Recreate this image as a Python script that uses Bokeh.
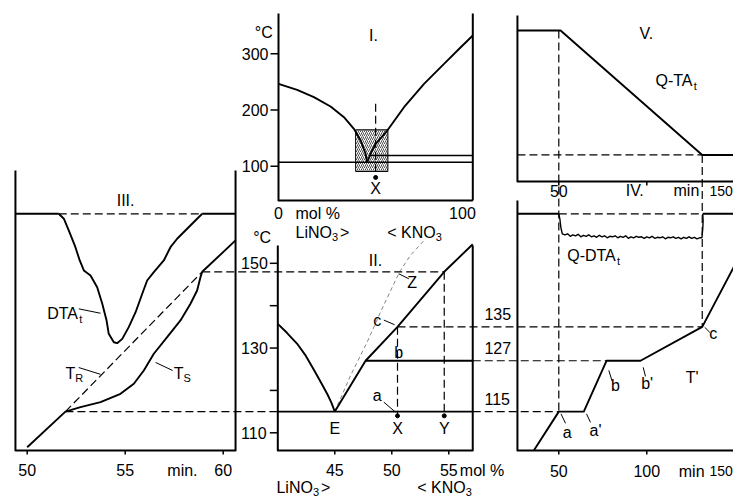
import numpy as np
from bokeh.plotting import figure
from bokeh.models import Range1d
from bokeh.core.properties import value
from bokeh.embed import file_html
from bokeh.resources import INLINE

W, H = 733, 498
FONT = "Liberation Sans"
FS = 16
SUB = 11

# ======================= DATA =======================
# Panel I: LiNO3-KNO3 phase diagram (mol % KNO3, degC)
I_xlim = [0, 100]
I_Tlim = [39, 371.7]
I_liq_left_x = [0, 9.6, 18.2, 26.8, 33.7, 38.8, 42.3, 44.8, 45.6]
I_liq_left_T = [246.6, 235.9, 222.8, 206.2, 187.2, 166.5, 145.7, 122.1, 107]
I_liq_right_x = [45.6, 47.4, 50, 56, 64.6, 74.9, 85.2, 93.8, 100]
I_liq_right_T = [107, 122.1, 139.9, 163.5, 205, 246.6, 282.2, 311.7, 332.6]
I_eut_T = 107
I_upper_x = [47.4, 100]
I_upper_T = 119
I_win_x = [39.7, 56.3]
I_win_T = [90.6, 164.8]
I_X = 50
I_X_T = [211, 80]
I_yticks = [100, 200, 300]

# Panel II: enlarged eutectic region
II_xlim = [40, 57.1]
II_Tlim = [105.83, 154.2]
II_liq_left_x = [40, 40.8, 41.7, 42.4, 43.2, 43.8, 44.35, 44.7, 45]
II_liq_left_T = [135.7, 133.6, 131.0, 128.4, 124.7, 121.8, 119.1, 117.1, 115]
II_liq_right_x = [45, 47.7, 50.5, 54.6, 57.1]
II_liq_right_T = [115, 127, 135, 148, 154.5]
II_meta_x = [45, 46.38, 47.84, 49.01, 50.32, 50.76, 51.64, 52.96]
II_meta_T = [115, 123.5, 131.4, 138.5, 145.95, 148.3, 151.9, 155.8]
T_a, T_b, T_c, T_z = 115, 127, 135, 148
x_E, x_X, x_Y = 45, 50.5, 54.6
T_dot = 114
II_yticks = [110, 120, 130, 140, 150]
II_ylabels = [110, 130, 150]
II_xticks = [45, 50, 55]

# Panel III: DTA / temperature vs time (min)
III_tlim = [49.4, 60.63]
III_Tlim = [105.83, 171.9]
III_dta_t = [51.61, 51.87, 52.12, 52.46, 52.68, 52.89, 53.23, 53.57, 53.83, 54.05, 54.16, 54.42,
             54.59, 54.85, 55.18, 55.53, 55.87, 56.12, 56.46, 56.97, 57.31, 57.65, 58.16, 58.67, 58.93]
III_dta_v = [0, -0.38, -1.28, -2.57, -3.59, -4.36, -4.75, -5.65, -6.92, -8.21, -9.23, -9.88,
             -9.95, -9.62, -8.72, -7.57, -6.15, -5.13, -4.49, -3.59, -2.57, -1.92, -1.15, -0.38, 0]
III_TR_t = [50.0, 51.95, 58.93, 60.63]
III_TR_T = [106.6, 115, 148, 155.4]
III_TS_t = [51.95, 52.72, 53.74, 54.76, 55.44, 55.95, 56.46, 57.14, 57.82, 58.33, 58.67, 58.84, 58.93]
III_TS_T = [115, 116.05, 117.23, 119.21, 121.57, 124.71, 128.65, 132.57, 136.51, 140.45, 143.59, 146.73, 148]
III_xticks = [50, 55, 60]

# Panel IV: quasi-isothermal T' and Q-DTA vs time (min)
IV_tlim = [26.5, 160]
IV_Tlim = [105.83, 164.8]
IV_Tp_t = [35.8, 50, 64.2, 77.1, 96.4, 131.5, 155]
IV_Tp_T = [105.83, 115, 115, 127, 127, 135, 153.5]
IV_q_t = [50, 50.6, 51.2, 52.0, 53.5, 55, 56.5, 58, 59.5, 61, 62.5, 64, 65.5, 67, 68.5, 70, 71.5,
          73, 74.5, 76, 77.5, 79, 80.5, 82, 83.5, 85, 86.5, 88, 89.5, 91, 92.5, 94, 95.5, 97,
          98.5, 100, 101.5, 103, 104.5, 106, 107.5, 109, 110.5, 112, 113.5, 115, 116.5, 118,
          119.5, 121, 122.5, 124, 125.5, 127, 128.5, 130, 131.3, 131.8, 132.0, 131.8]
IV_q_v = [0, -0.5, -1.4, -2.0, -2.1, -2.0, -2.25, -2.1, -2.2, -2.05, -2.3, -2.15, -2.25, -2.1,
          -2.3, -2.2, -2.35, -2.15, -2.3, -2.2, -2.4, -2.25, -2.3, -2.2, -2.4, -2.25, -2.35,
          -2.2, -2.45, -2.3, -2.4, -2.25, -2.35, -2.3, -2.45, -2.3, -2.4, -2.25, -2.45, -2.35,
          -2.4, -2.3, -2.5, -2.35, -2.4, -2.3, -2.45, -2.35, -2.5, -2.35, -2.45, -2.3, -2.45,
          -2.35, -2.5, -2.4, -2.4, -1.5, -0.7, 0]
IV_q_end = 131.8
IV_xticks = [50, 100, 150]

# Panel V: Q-TA
V_vlim = [0, 10]
V_qta_t = [26.5, 51, 131.5, 160]
V_qta_v = [9.1, 9.1, 1.6, 1.6]
V_xticks = [50, 100, 150]

# ======================= LAYOUT (data value -> pixel) =======================
LX = {"I": (0, 278.0, 100, 472.3),
      "II": (45, 334.3, 55, 448.3),
      "III": (50, 26.7, 60, 222.7),
      "IV": (50, 558.3, 100, 646.3)}
LY = {"TI": (100, 165.7, 300, 53.3),
      "T": (110, 432.3, 150, 262.8),
      "D3": (0, 213.3, -10, 343.3),
      "D4": (0, 213.3, -1, 223.3),
      "V": (0, 181.0, 10, 15.0)}


def to_px(Lm, v):
    a, pa, b, pb = Lm
    return pa + (v - a) * (pb - pa) / (b - a)


def from_px(Lm, q):
    a, pa, b, pb = Lm
    return a + (q - pa) * (b - a) / (pb - pa)


def cx(a, b, v):
    return from_px(LX[b], to_px(LX[a], v))


def cy(a, b, v):
    return from_px(LY[b], to_px(LY[a], v))


p = figure(width=W, height=H, x_range=Range1d(0, W), y_range=Range1d(0, H),
           x_axis_type=None, y_axis_type=None, toolbar_location=None,
           output_backend="svg", min_border=0, outline_line_color=None,
           background_fill_color="white", border_fill_color="white")
p.extra_x_ranges = {k: Range1d(from_px(Lm, 0), from_px(Lm, W)) for k, Lm in LX.items()}
p.extra_y_ranges = {k: Range1d(from_px(Lm, H), from_px(Lm, 0)) for k, Lm in LY.items()}

DASH = "8 4"


def ln(xs, ys, xr, yr, w=1.9, dash="solid", color="black"):
    p.line(list(xs), list(ys), x_range_name=xr, y_range_name=yr, line_width=w,
           line_dash=dash, line_color=color, line_join="round")


def ticks(xr, yr, xs, ys, length, angle, w=1.5):
    p.ray(x=list(xs), y=list(ys), length=length, length_units="screen", angle=angle,
          x_range_name=xr, y_range_name=yr, line_color="black", line_width=w)


CW = {'L': 556, 'i': 222, 'N': 722, 'O': 778, 'K': 667, ' ': 278, '>': 584, '<': 584, 'D': 722,
      'T': 611, 'A': 667, 'Q': 778, '-': 333, 't': 278, 'R': 722, 'S': 667, 'm': 833, 'o': 556,
      'l': 222, '%': 889, "'": 191, '.': 278, 'I': 278, 'V': 667, 'X': 667, 'Y': 667, 'Z': 611,
      'E': 667, 'n': 556, 'a': 556, 'b': 556, 'c': 500, 'C': 722, '\u00b0': 400}


def tw(s, size):
    return sum(CW.get(ch, 556) for ch in s) * size / 1000.0


def label(xr, yr, x, y, parts, align="left", size=FS, dx=0, dy=0, gap=0):
    if isinstance(parts, str):
        parts = [(parts, False)]
    widths = [tw(t, SUB if sub else size) + (gap if sub else 0) for t, sub in parts]
    total = sum(widths)
    off = dx - {"left": 0, "center": total / 2, "right": total}[align]
    for (t, sub), wd in zip(parts, widths):
        p.text(x=[x], y=[y], text=[t], x_offset=off, y_offset=dy + (5 if sub else 0),
               text_font=value(FONT), text_font_size=value(f"{SUB if sub else size}px"),
               text_align="left", text_baseline="middle", text_color="black",
               x_range_name=xr, y_range_name=yr)
        off += wd


LINO3 = [("LiNO", False), ("3", True), (" >", False)]
KNO3 = [("< KNO", False), ("3", True)]

# ======================= PANEL I =======================
xr, yr = "I", "TI"
ln([I_xlim[0], I_xlim[0], I_xlim[1]], [I_Tlim[1], I_Tlim[0], I_Tlim[0]], xr, yr, w=2)
ln([I_xlim[1], I_xlim[1]], [I_Tlim[0], I_Tlim[1]], xr, yr, w=2)
p.quad(left=[I_win_x[0]], right=[I_win_x[1]], bottom=[I_win_T[0]], top=[I_win_T[1]],
       fill_color=None, hatch_pattern="/", hatch_color="#222222", hatch_scale=4, hatch_weight=0.8,
       line_color="black", line_width=1, x_range_name=xr, y_range_name=yr)
ln(I_liq_left_x, I_liq_left_T, xr, yr)
ln(I_liq_right_x, I_liq_right_T, xr, yr)
ln(I_xlim, [I_eut_T, I_eut_T], xr, yr, w=1.6)
ln(I_upper_x, [I_upper_T, I_upper_T], xr, yr, w=1.6)
ln([I_X, I_X], I_X_T, xr, yr, w=1.2, dash=DASH)
p.scatter([I_X], [I_X_T[1]], size=4, color="black", x_range_name=xr, y_range_name=yr)
ticks(xr, yr, [I_xlim[0]] * 3, I_yticks, 8, np.pi)
for t in I_yticks:
    label(xr, yr, I_xlim[0], t, str(t), align="right", dx=-10)
label(xr, yr, -7.55, 337.9, "\u00b0C", align="center")
label(xr, yr, 48.9, 332.6, "I.", align="center")
label(xr, yr, I_xlim[0], I_Tlim[0], "0", align="center", dy=13)
label(xr, yr, 8.75, I_Tlim[0], "mol %", dy=13)
label(xr, yr, I_xlim[1], I_Tlim[0], "100", align="right", dx=3, dy=13)
label(xr, yr, 8.75, I_Tlim[0], LINO3, dy=32, gap=2)
label(xr, yr, 55.95, I_Tlim[0], KNO3, dy=32)
label(xr, yr, I_X, 60, "X", align="center")

# ======================= PANEL II =======================
xr, yr = "II", "T"
ln([II_xlim[0], II_xlim[0], II_xlim[1], II_xlim[1]],
   [II_Tlim[1], II_Tlim[0], II_Tlim[0], II_Tlim[1]], xr, yr, w=2)
ln(II_meta_x, II_meta_T, xr, yr, w=0.9, dash="4 3", color="#777777")
ln(II_liq_left_x, II_liq_left_T, xr, yr)
ln(II_liq_right_x, II_liq_right_T, xr, yr)
ln(II_xlim, [T_a, T_a], xr, yr, w=1.8)
ln([II_liq_right_x[1], II_xlim[1]], [T_b, T_b], xr, yr, w=1.8)
# dashed connecting lines
ln([cx("III", "II", III_TS_t[0]), II_xlim[0]], [T_a, T_a], xr, yr, w=1.2, dash=DASH)
ln([II_xlim[1], cx("IV", "II", IV_Tp_t[1])], [T_a, T_a], xr, yr, w=1.2, dash=DASH)
ln([II_xlim[1], cx("IV", "II", IV_Tp_t[3])], [T_b, T_b], xr, yr, w=1.2, dash=DASH)
ln([x_X, cx("IV", "II", IV_Tp_t[5])], [T_c, T_c], xr, yr, w=1.2, dash=DASH)
ln([cx("III", "II", III_TS_t[-1]), x_Y], [T_z, T_z], xr, yr, w=1.2, dash=DASH)
ln([x_X, x_X], [T_c, T_dot], xr, yr, w=1.2, dash=DASH)
ln([x_Y, x_Y], [T_z, T_dot], xr, yr, w=1.2, dash=DASH)
p.scatter([x_X, x_Y], [T_dot, T_dot], size=4, color="black", x_range_name=xr, y_range_name=yr)
ticks(xr, yr, [II_xlim[0]] * 5, II_yticks, 8, np.pi)
ticks(xr, yr, II_xticks, [II_Tlim[0]] * 3, 4, -np.pi / 2)
for t in II_ylabels:
    label(xr, yr, II_xlim[0], t, str(t), align="right", dx=-10)
for c in II_xticks:
    label(xr, yr, c, II_Tlim[0], str(c), align="center", dy=20)
label(xr, yr, 55, II_Tlim[0], "mol %", dx=11, dy=20)
label(xr, yr, 39.88, II_Tlim[0], LINO3, dy=37, gap=2)
label(xr, yr, 52.23, II_Tlim[0], KNO3, dy=37)
label(xr, yr, 38.63, 156.2, "\u00b0C", align="center")
label(xr, yr, 48.57, 150.67, "II.", align="center")
for c, s in [(x_E, "E"), (x_X, "X"), (x_Y, "Y")]:
    label(xr, yr, c, 111.02, s, align="center")
label(xr, yr, 48.72, 118.8, "a", align="center")
label(xr, yr, 50.61, 129.03, "b", align="center")
label(xr, yr, 48.72, 136.5, "c", align="center")
label(xr, yr, 51.79, 145.55, "Z", align="center")
ln([49.3, 50.32], [117.23, 114.9], xr, yr, w=1)
ln([49.3, 50.25], [136.6, 135.5], xr, yr, w=1)
ln([50.61, 51.49], [147.53, 146.35], xr, yr, w=1)
for t in [T_c, T_b, T_a]:
    label(xr, yr, 59.3, t, str(t), align="center", dy=-13)

# ======================= PANEL III =======================
xr, yr = "III", "T"
ln([III_tlim[0], III_tlim[0], III_tlim[1], III_tlim[1]],
   [III_Tlim[1], III_Tlim[0], III_Tlim[0], III_Tlim[1]], xr, yr, w=2)
ticks(xr, yr, III_xticks, [III_Tlim[0]] * 3, 4, -np.pi / 2)
ln(III_TR_t[:2], III_TR_T[:2], xr, yr)
ln(III_TR_t[1:3], III_TR_T[1:3], xr, yr, w=1.2, dash=DASH)
ln(III_TR_t[2:], III_TR_T[2:], xr, yr)
ln(III_TS_t, III_TS_T, xr, yr)
ln([III_dta_t[0], III_dta_t[-1]], [0, 0], xr, "D3", w=1.2, dash=DASH)
ln([III_tlim[0], III_dta_t[0]], [0, 0], xr, "D3")
ln([III_dta_t[-1], III_tlim[1]], [0, 0], xr, "D3")
ln(III_dta_t, III_dta_v, xr, "D3")
for c in III_xticks:
    label(xr, yr, c, III_Tlim[0], str(c), align="center", dy=20)
label(xr, yr, 57.92, III_Tlim[0], "min.", align="center", dy=20)
label(xr, yr, 55.02, 164.83, "III.", align="center")
label(xr, yr, 51.02, 138.08, [("DTA", False), ("t", True)])
ln([52.63, 53.74], [-7.31, -7.65], xr, "D3", w=1)
label(xr, yr, 51.95, 124.0, [("T", False), ("R", True)])
ln([52.63, 53.74], [125.4, 123.8], xr, yr, w=1)
label(xr, yr, 57.48, 124.0, [("T", False), ("S", True)])
ln([56.55, 57.42], [126.6, 124.7], xr, yr, w=1)

# ======================= PANEL V =======================
xr, yr = "IV", "V"
ln([IV_tlim[0], IV_tlim[0], IV_tlim[1]], [V_vlim[1], V_vlim[0], V_vlim[0]], xr, yr, w=2)
ticks(xr, yr, V_xticks, [V_vlim[0]] * 3, 4, -np.pi / 2)
ln(V_qta_t, V_qta_v, xr, yr)
ln([IV_tlim[0], V_qta_t[2]], [V_qta_v[2], V_qta_v[2]], xr, yr, w=1.2, dash=DASH)
label(xr, yr, 50, V_vlim[0], "50", align="center", dy=9)
label(xr, yr, 150, V_vlim[0], "150", align="right", dx=-2, size=14, dy=9)
label(xr, yr, 93.58, V_vlim[0], "IV.", align="center", dy=9)
label(xr, yr, 122.5, V_vlim[0], "min", align="center", dy=9)
label(xr, yr, 100.2, 8.92, "V.", align="center")
label(xr, yr, 104.94, 6.08, [("Q-TA", False), ("t", True)])

# ======================= PANEL IV =======================
xr, yr = "IV", "T"
ln([IV_tlim[0], IV_tlim[0], IV_tlim[1]], [IV_Tlim[1], IV_Tlim[0], IV_Tlim[0]], xr, yr, w=2)
ticks(xr, yr, IV_xticks, [IV_Tlim[0]] * 3, 4, -np.pi / 2)
ln(IV_Tp_t, IV_Tp_T, xr, yr)
ln([IV_tlim[0], IV_q_t[0]], [0, 0], xr, "D4")
ln([IV_q_t[0], IV_q_end], [0, 0], xr, "D4", w=1.2, dash=DASH)
ln([IV_q_end, IV_tlim[1]], [0, 0], xr, "D4")
ln(IV_q_t, IV_q_v, xr, "D4", w=1.4)
ln([IV_Tp_t[1], IV_Tp_t[1]], [cy("V", "T", V_qta_v[0]), T_a], xr, yr, w=1.2, dash=DASH)
ln([IV_Tp_t[5], IV_Tp_t[5]], [cy("V", "T", V_qta_v[2]), T_c], xr, yr, w=1.2, dash=DASH)
for c in IV_xticks[:2]:
    label(xr, yr, c, IV_Tlim[0], str(c), align="center", dy=21)
label(xr, yr, IV_xticks[2], IV_Tlim[0], "150", align="right", dx=-2, size=14, dy=21)
label(xr, yr, 125.5, IV_Tlim[0], "min", align="center", dy=21)
label(xr, yr, 54.77, 151.84, [("Q-DTA", False), ("t", True)])
label(xr, yr, 54.77, 110.15, "a", align="center")
ln([51.25, 53.81], [114.47, 112.23], xr, yr, w=1)
label(xr, yr, 70.85, 110.55, "a'", align="center")
ln([65.74, 68.01], [114.47, 112.46], xr, yr, w=1)
label(xr, yr, 82.2, 121.17, "b", align="center")
ln([78.41, 80.34], [124.74, 122.14], xr, yr, w=1)
label(xr, yr, 100.2, 121.57, "b'", align="center")
ln([97.95, 99.26], [125.45, 123.32], xr, yr, w=1)
label(xr, yr, 125.8, 123.13, "T'", align="center")
label(xr, yr, 137.7, 133.37, "c", align="center")
ln([132.9, 135.8], [134.9, 133.7], xr, yr, w=1)

open("out.html", "w").write(file_html(p, INLINE))
